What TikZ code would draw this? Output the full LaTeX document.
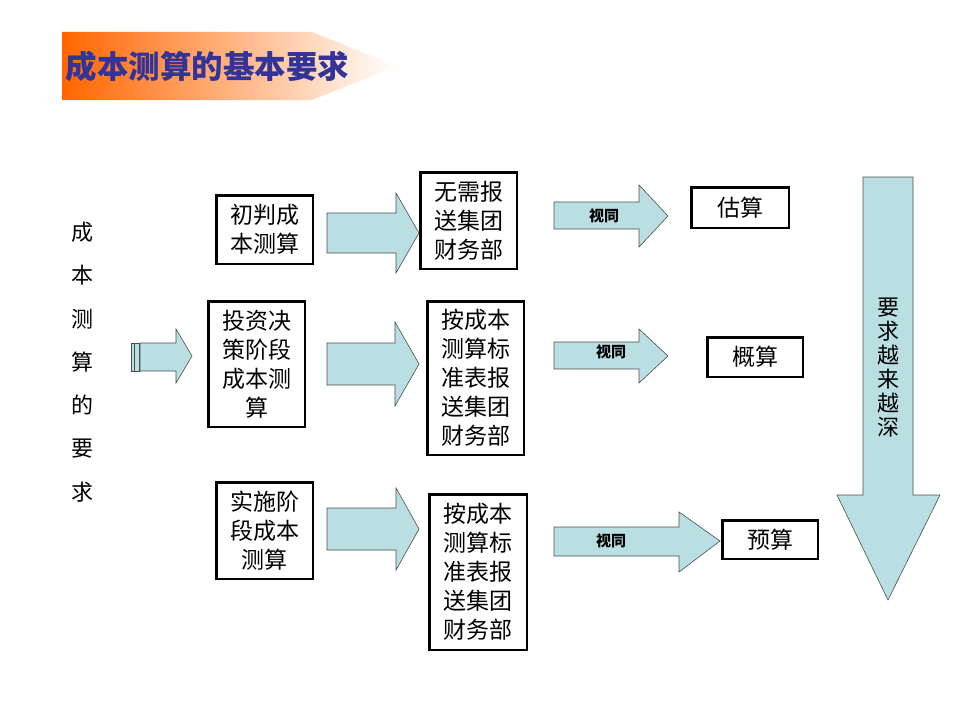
\documentclass[tikz,border=0pt]{standalone}
\usepackage{fontspec}
\setmainfont{Noto Sans CJK SC}
\usepackage{xcolor}

\definecolor{arrowfill}{RGB}{186,223,227}
\definecolor{titleblue}{RGB}{51,51,153}
\definecolor{titleorange}{RGB}{255,102,0}

\begin{document}
\begin{tikzpicture}[x=1pt, y=-1pt,
        box/.style={draw, line width=2.5pt, align=center, inner sep=0pt,
          font=\fontsize{23}{29}\selectfont},
        blockarrow/.style={fill=arrowfill, draw=black!70, line width=0.6pt},
        sametext/.style={font=\fontsize{15}{17}\selectfont\bfseries}]
        \useasboundingbox (0,0) rectangle (960,717);
        % title banner
        \shade[left color=titleorange, right color=white] (62,32) -- (312,32) -- (397,66) -- (312,100) -- (62,100) -- cycle;
        \node[anchor=west, text=titleblue, font=\fontsize{31.5}{34}\selectfont\bfseries] (title) at (62,66) {成本测算的基本要求};
        % left column
        \node[align=center, font=\fontsize{22}{43.3}\selectfont] (req) at (82,362) {成\\本\\测\\算\\的\\要\\求};
        \draw[blockarrow] (131,343) rectangle (134,371);
        \draw[blockarrow] (134.5,343) rectangle (139,371);
        \draw[blockarrow] (140,343) -- (176,343) -- (176,329) -- (192,356) -- (176,383) -- (176,371) -- (140,371) -- cycle;
        % first column of boxes
        \node[box, minimum width=96.5, minimum height=68.5] (cp) at (264.5,229.5) {初判成\\本测算};
        \node[box, minimum width=96.5, minimum height=125.5] (tz) at (256.5,364) {投资决\\策阶段\\成本测\\算};
        \node[box, minimum width=96.5, minimum height=96.5] (ss) at (264.5,530.5) {实施阶\\段成本\\测算};
        % big arrows
        \draw[blockarrow] (327,213) -- (396,213) -- (396,193) -- (419,233) -- (396,273) -- (396,253) -- (327,253) -- cycle;
        \draw[blockarrow] (327,343) -- (395,343) -- (395,322) -- (419,364) -- (395,406) -- (395,385) -- (327,385) -- cycle;
        \draw[blockarrow] (327,508) -- (396,508) -- (396,488) -- (419,529) -- (396,570) -- (396,550) -- (327,550) -- cycle;
        % second column of boxes
        \node[box, minimum width=96.5, minimum height=96.5] (wx) at (468.5,220.5) {无需报\\送集团\\财务部};
        \node[box, minimum width=96.5, minimum height=153.5] (ab1) at (475.5,378) {按成本\\测算标\\准表报\\送集团\\财务部};
        \node[box, minimum width=97.5, minimum height=155.5] (ab2) at (478,572) {按成本\\测算标\\准表报\\送集团\\财务部};
        % small arrows
        \draw[blockarrow] (554,202) -- (639,202) -- (639,185) -- (668,216) -- (639,247) -- (639,229) -- (554,229) -- cycle;
        \node[sametext] (st1) at (604,215.5) {视同};
        \draw[blockarrow] (554,342) -- (639,342) -- (639,329) -- (668,356) -- (639,383) -- (639,369) -- (554,369) -- cycle;
        \node[sametext] (st2) at (611,352) {视同};
        \draw[blockarrow] (554,527) -- (679,527) -- (679,512) -- (720,541) -- (679,572) -- (679,556) -- (554,556) -- cycle;
        \node[sametext] (st3) at (611,541) {视同};
        % result boxes
        \node[box, minimum width=97.5, minimum height=40.5] (gs) at (740,207.5) {估算};
        \node[box, minimum width=95.5, minimum height=39.5] (ga) at (755,357) {概算};
        \node[box, minimum width=95.5, minimum height=38.5] (ys) at (770,539.5) {预算};
        % right arrow
        \draw[blockarrow] (863,177) -- (913,177) -- (913,495) -- (940,495) -- (888,600) -- (837,495) -- (863,495) -- cycle;
        \node[align=center, font=\fontsize{22}{24}\selectfont] (deep) at (888,368) {要\\求\\越\\来\\越\\深};
      \end{tikzpicture}
\end{document}
